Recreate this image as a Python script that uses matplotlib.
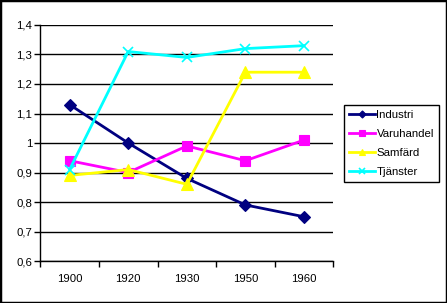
"""Line chart: relative index per sector, 1900-1960 (Excel-style)."""

import matplotlib

matplotlib.use("Agg")
import matplotlib.pyplot as plt
from matplotlib.patches import Rectangle
from matplotlib.ticker import FixedLocator, FuncFormatter

YEARS = ["1900", "1920", "1930", "1950", "1960"]
INDUSTRI = [1.13, 1.00, 0.88, 0.79, 0.75]
VARUHANDEL = [0.94, 0.90, 0.99, 0.94, 1.01]
SAMFARD = [0.89, 0.91, 0.86, 1.24, 1.24]
TJANSTER = [0.91, 1.31, 1.29, 1.32, 1.33]

plt.rcParams["font.family"] = ["Liberation Sans", "DejaVu Sans"]
plt.rcParams["font.size"] = 8.2

fig = plt.figure(figsize=(4.47, 3.03), dpi=100, facecolor="white")
ax = fig.add_axes([0.0902, 0.1386, 0.6555, 0.7789])

x = range(len(YEARS))
series = [
    ("Industri", INDUSTRI, "#000080", "D", 6, 2.0),
    ("Varuhandel", VARUHANDEL, "#ff00ff", "s", 7, 2.0),
    ("Samfärd", SAMFARD, "#ffff00", "^", 8, 2.0),
    ("Tjänster", TJANSTER, "#00ffff", "x", 7, 2.0),
]
for name, vals, col, mk, ms, lw in series:
    ax.plot(x, vals, color=col, lw=lw, marker=mk, ms=ms, mew=1.2 if mk == "x" else 0.8,
            mec=col, mfc=col, label=name, zorder=3)

ax.set_xlim(-0.5, len(YEARS) - 0.5)
ax.set_ylim(0.6, 1.4)
ax.set_yticks([0.6 + 0.1 * i for i in range(9)])
ax.yaxis.set_major_formatter(FuncFormatter(lambda v, _: f"{round(v, 1):g}".replace(".", ",")))
ax.set_xticks(list(x))
ax.set_xticklabels(YEARS)
ax.xaxis.set_minor_locator(FixedLocator([i - 0.5 for i in range(len(YEARS) + 1)]))
ax.tick_params(axis="x", which="major", length=0, pad=9)
ax.tick_params(axis="x", which="minor", length=4, width=1, direction="out", color="black")
ax.tick_params(axis="y", length=4, width=1, direction="out", pad=2)
ax.grid(axis="y", color="black", lw=1)
ax.set_axisbelow(True)
for side in ("top", "right"):
    ax.spines[side].set_visible(False)
for side in ("left", "bottom"):
    ax.spines[side].set_linewidth(1)
    ax.spines[side].set_zorder(4)

leg = fig.legend(loc="upper left", bbox_to_anchor=(0.7696, 0.6535), bbox_transform=fig.transFigure,
                 borderaxespad=0, fancybox=False, framealpha=1, edgecolor="black",
                 handlelength=2.3, handletextpad=0.1, labelspacing=0.78, markerscale=0.6,
                 borderpad=0.45, fontsize=8.2)
leg.get_frame().set_linewidth(1)

fig.patches.append(Rectangle((0, 0), 1, 1, transform=fig.transFigure, fill=False,
                             edgecolor="black", lw=2.5, zorder=10))

fig.savefig("out.png", dpi=100, facecolor="white")
